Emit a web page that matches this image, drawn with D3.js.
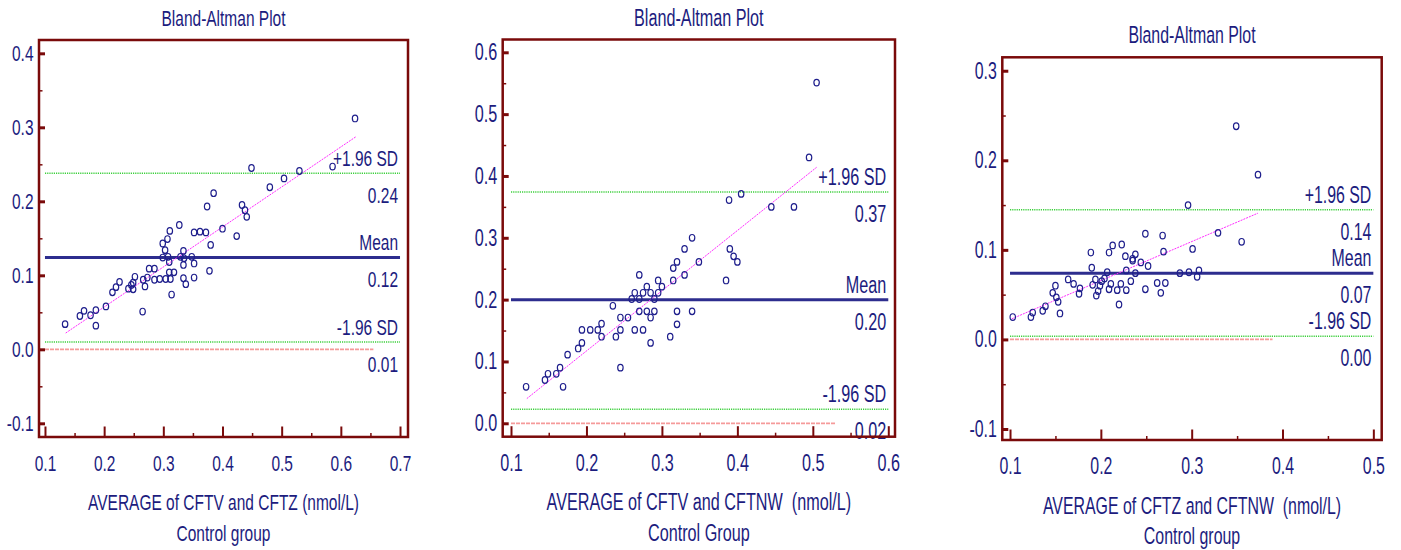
<!DOCTYPE html>
<html>
<head>
<meta charset="utf-8">
<script src="https://cdn.jsdelivr.net/npm/d3@7"></script>
<style>
  html, body { margin: 0; padding: 0; background: #ffffff; }
  svg { display: block; }
  text { font-family: "Liberation Sans", Arial, Helvetica, sans-serif; fill: #1c1c7e; white-space: pre; }
</style>
</head>
<body>
<svg id="chart" width="1401" height="550"></svg>
<script>
// ---- Panel 1: CFTV vs CFTZ ----
const avg1 = [0.134,0.159,0.166,0.177,0.186,0.186,0.203,0.214,0.220,0.226,0.241,0.246,0.249,0.249,0.252,0.265,0.266,0.269,0.273,0.276,0.285,0.285,0.294,0.299,0.299,0.303,0.307,0.311,0.308,0.310,0.304,0.310,0.312,0.314,0.318,0.327,0.329,0.334,0.335,0.334,0.334,0.338,0.348,0.352,0.352,0.352,0.362,0.372,0.374,0.380,0.378,0.385,0.400,0.424,0.433,0.438,0.441,0.449,0.480,0.504,0.530,0.586,0.624];
const diff1 = [0.034,0.045,0.052,0.046,0.053,0.032,0.058,0.077,0.084,0.091,0.082,0.087,0.090,0.081,0.098,0.051,0.094,0.085,0.097,0.109,0.109,0.094,0.095,0.143,0.124,0.134,0.149,0.160,0.125,0.118,0.095,0.104,0.095,0.074,0.104,0.168,0.125,0.133,0.123,0.114,0.096,0.088,0.125,0.158,0.116,0.097,0.159,0.158,0.193,0.141,0.106,0.211,0.163,0.153,0.195,0.188,0.179,0.245,0.219,0.231,0.241,0.247,0.312];
const limits1 = [0.238, 0.124, 0.0099];          // +1.96 SD, mean, -1.96 SD
const regLine1 = [[0.135, 0.022], [0.625, 0.287]];
const zeroEnd1 = 0.655;
const xTicks1 = [0.1,0.2,0.3,0.4,0.5,0.6,0.7];
const yTicks1 = [-0.1,0.0,0.1,0.2,0.3,0.4];
const xTitle1 = "AVERAGE of CFTV and CFTZ (nmol/L)";
const group1 = "Control group";

// ---- Panel 2: CFTV vs CFTNW ----
const avg2 = [0.505,0.495,0.389,0.405,0.445,0.475,0.340,0.330,0.349,0.390,0.395,0.400,0.385,0.320,0.315,0.315,0.330,0.270,0.295,0.300,0.280,0.264,0.275,0.285,0.295,0.260,0.270,0.290,0.235,0.270,0.280,0.290,0.285,0.320,0.340,0.320,0.245,0.255,0.245,0.239,0.264,0.275,0.285,0.311,0.245,0.220,0.220,0.215,0.205,0.194,0.194,0.189,0.175,0.165,0.160,0.149,0.145,0.169,0.120];
const diff2 = [0.551,0.430,0.361,0.371,0.350,0.350,0.300,0.282,0.261,0.282,0.270,0.261,0.231,0.261,0.251,0.231,0.240,0.240,0.231,0.221,0.221,0.211,0.211,0.211,0.211,0.201,0.201,0.201,0.190,0.181,0.181,0.181,0.171,0.181,0.181,0.160,0.171,0.171,0.151,0.140,0.151,0.151,0.130,0.140,0.090,0.161,0.140,0.151,0.151,0.151,0.130,0.121,0.111,0.090,0.080,0.080,0.070,0.059,0.059];
const limits2 = [0.374, 0.1997, 0.0227];
const regLine2 = [[0.121, 0.040], [0.505, 0.414]];
const zeroEnd2 = 0.530;
const xTicks2 = [0.1,0.2,0.3,0.4,0.5,0.6];
const yTicks2 = [0.0,0.1,0.2,0.3,0.4,0.5,0.6];
const xTitle2 = "AVERAGE of CFTV and CFTNW  (nmol/L)";
const group2 = "Control Group";

// ---- Panel 3: CFTZ vs CFTNW ----
const avg3 = [0.103,0.123,0.125,0.136,0.139,0.147,0.150,0.151,0.153,0.155,0.164,0.170,0.177,0.176,0.189,0.190,0.191,0.194,0.195,0.197,0.199,0.201,0.204,0.207,0.209,0.209,0.211,0.213,0.218,0.220,0.222,0.223,0.227,0.228,0.228,0.233,0.235,0.235,0.238,0.238,0.244,0.249,0.249,0.252,0.262,0.266,0.268,0.269,0.271,0.287,0.296,0.297,0.301,0.306,0.308,0.329,0.349,0.355,0.373];
const diff3 = [0.025,0.025,0.030,0.032,0.037,0.052,0.060,0.047,0.042,0.029,0.067,0.062,0.057,0.051,0.097,0.080,0.061,0.067,0.049,0.054,0.060,0.065,0.068,0.075,0.097,0.056,0.062,0.105,0.055,0.039,0.062,0.106,0.093,0.077,0.055,0.065,0.090,0.088,0.095,0.074,0.086,0.118,0.056,0.082,0.063,0.052,0.116,0.098,0.063,0.074,0.150,0.075,0.101,0.070,0.077,0.119,0.238,0.109,0.184];
const limits3 = [0.1447, 0.074, 0.0036];
const regLine3 = [[0.102, 0.023], [0.373, 0.141]];
const zeroEnd3 = 0.389;
const xTicks3 = [0.1,0.2,0.3,0.4,0.5];
const yTicks3 = [-0.1,0.0,0.1,0.2,0.3];
const xTitle3 = "AVERAGE of CFTZ and CFTNW  (nmol/L)";
const group3 = "Control group";

const chartTitle = "Bland-Altman Plot";
const limitNames = ["+1.96 SD", "Mean", "-1.96 SD"];

// Frame boxes (pixels), the data extent each frame covers, and lettering size
const panels = [
  { box: [39, 40, 408, 437],      xDom: [0.0899, 0.7135], yDom: [-0.1185, 0.418], font: 15.5,
    avg: avg1, diff: diff1, limits: limits1, reg: regLine1, zeroEnd: zeroEnd1,
    xTicks: xTicks1, yTicks: yTicks1, xTitle: xTitle1, group: group1 },
  { box: [502.7, 39.5, 895, 436.7], xDom: [0.089, 0.6089], yDom: [-0.0217, 0.6207], font: 16.2,
    avg: avg2, diff: diff2, limits: limits2, reg: regLine2, zeroEnd: zeroEnd2,
    xTicks: xTicks2, yTicks: yTicks2, xTitle: xTitle2, group: group2 },
  { box: [1002.3, 57.3, 1381.7, 440], xDom: [0.0915, 0.5092], yDom: [-0.1123, 0.315], font: 15.9,
    avg: avg3, diff: diff3, limits: limits3, reg: regLine3, zeroEnd: zeroEnd3,
    xTicks: xTicks3, yTicks: yTicks3, xTitle: xTitle3, group: group3 }
];

const SY = 1.45;             // tall, condensed lettering
const FRAME = "#7a0a0a";
const NAVY = "#1c1c7e";

const svg = d3.select("#chart");

function label(g, x, y, str, anchor) {
  return g.append("text")
    .attr("transform", `translate(${x},${y}) scale(1,${SY})`)
    .attr("dy", "0.35em")
    .attr("text-anchor", anchor || "middle")
    .text(str);
}

function minorBetween(ticks) {
  const out = [];
  for (let i = 0; i < ticks.length - 1; i++) out.push(+((ticks[i] + ticks[i + 1]) / 2).toFixed(3));
  return out;
}

panels.forEach(p => {
  const [x0, y0, x1, y1] = p.box;
  const x = d3.scaleLinear().domain(p.xDom).range([x0, x1]);
  const y = d3.scaleLinear().domain(p.yDom).range([y1, y0]);
  const g = svg.append("g").style("font-size", p.font + "px");
  const xFirst = p.xTicks[0], xLast = p.xTicks[p.xTicks.length - 1];

  // zero reference line
  g.append("line")
    .attr("x1", x(xFirst)).attr("x2", x(p.zeroEnd))
    .attr("y1", y(0)).attr("y2", y(0))
    .attr("stroke", "#f59a9a").attr("stroke-width", 1.8).attr("stroke-dasharray", "4,1");

  // limits of agreement
  [0, 2].forEach(i => {
    g.append("line")
      .attr("x1", x(xFirst)).attr("x2", x(xLast))
      .attr("y1", y(p.limits[i])).attr("y2", y(p.limits[i]))
      .attr("stroke", "#3ccf3c").attr("stroke-width", 1.4).attr("stroke-dasharray", "1.2,1");
  });
  g.append("line")
    .attr("x1", x(xFirst)).attr("x2", x(xLast))
    .attr("y1", y(p.limits[1])).attr("y2", y(p.limits[1]))
    .attr("stroke", "#2d2d8e").attr("stroke-width", 3);

  // regression of difference on average
  g.append("path")
    .attr("d", d3.line().x(d => x(d[0])).y(d => y(d[1]))(p.reg))
    .attr("stroke", "#ff2cff").attr("stroke-width", 1).attr("stroke-dasharray", "2,1").attr("fill", "none");

  // observations
  g.append("g").selectAll("ellipse")
    .data(d3.zip(p.avg, p.diff))
    .join("ellipse")
    .attr("cx", d => x(d[0])).attr("cy", d => y(d[1]))
    .attr("rx", 2.7).attr("ry", 3.3)
    .attr("fill", "none").attr("stroke", "#1e1e8c").attr("stroke-width", 1.2);

  // limit labels on the right
  const xr = x(xLast) - 2;
  p.limits.forEach((v, i) => {
    label(g, xr, y(v) - 15, limitNames[i], "end");
    label(g, xr, y(v) + 22, d3.format(".2f")(v), "end");
  });

  // y axis (ticks pointing inward)
  const yMinor = minorBetween(p.yTicks);
  const ya = g.append("g").attr("transform", `translate(${x0},0)`)
    .call(d3.axisLeft(y).tickValues(p.yTicks).tickSizeInner(-6).tickSizeOuter(0)
      .tickPadding(5.5).tickFormat(d => d.toFixed(1)));
  ya.select(".domain").remove();
  ya.attr("font-size", null).attr("font-family", null);
  ya.selectAll("line").attr("stroke", FRAME).attr("stroke-width", 3);
  ya.selectAll("text").attr("fill", NAVY).attr("transform", `scale(1,${SY})`);
  const ym = g.append("g").attr("transform", `translate(${x0},0)`)
    .call(d3.axisLeft(y).tickValues(yMinor).tickSizeInner(-3.5).tickSizeOuter(0).tickFormat(""));
  ym.select(".domain").remove();
  ym.selectAll("line").attr("stroke", FRAME).attr("stroke-width", 1.5);

  // x axis (ticks pointing up)
  const xMinor = minorBetween(p.xTicks);
  const xa = g.append("g").attr("transform", `translate(0,${y1})`)
    .call(d3.axisBottom(x).tickValues(p.xTicks).tickSizeInner(-10.5).tickSizeOuter(0)
      .tickFormat(d => d.toFixed(1)));
  xa.select(".domain").remove();
  xa.attr("font-size", null).attr("font-family", null);
  xa.selectAll("line").attr("stroke", FRAME).attr("stroke-width", 2);
  xa.selectAll("text").attr("fill", NAVY)
    .attr("y", 26 / SY).attr("dy", "0.35em").attr("transform", `scale(1,${SY})`);
  const xm = g.append("g").attr("transform", `translate(0,${y1})`)
    .call(d3.axisBottom(x).tickValues(xMinor).tickSizeInner(-4).tickSizeOuter(0).tickFormat(""));
  xm.select(".domain").remove();
  xm.selectAll("line").attr("stroke", FRAME).attr("stroke-width", 1.5);

  // frame
  g.append("rect")
    .attr("x", x0).attr("y", y0).attr("width", x1 - x0).attr("height", y1 - y0)
    .attr("fill", "none").attr("stroke", FRAME).attr("stroke-width", 2.5);

  // titles
  const cx = (x0 + x1) / 2;
  label(g, cx, y0 - 22, chartTitle);
  label(g, cx, y1 + 65.5, p.xTitle);
  label(g, cx, y1 + 96, p.group);
});
</script>
</body>
</html>
